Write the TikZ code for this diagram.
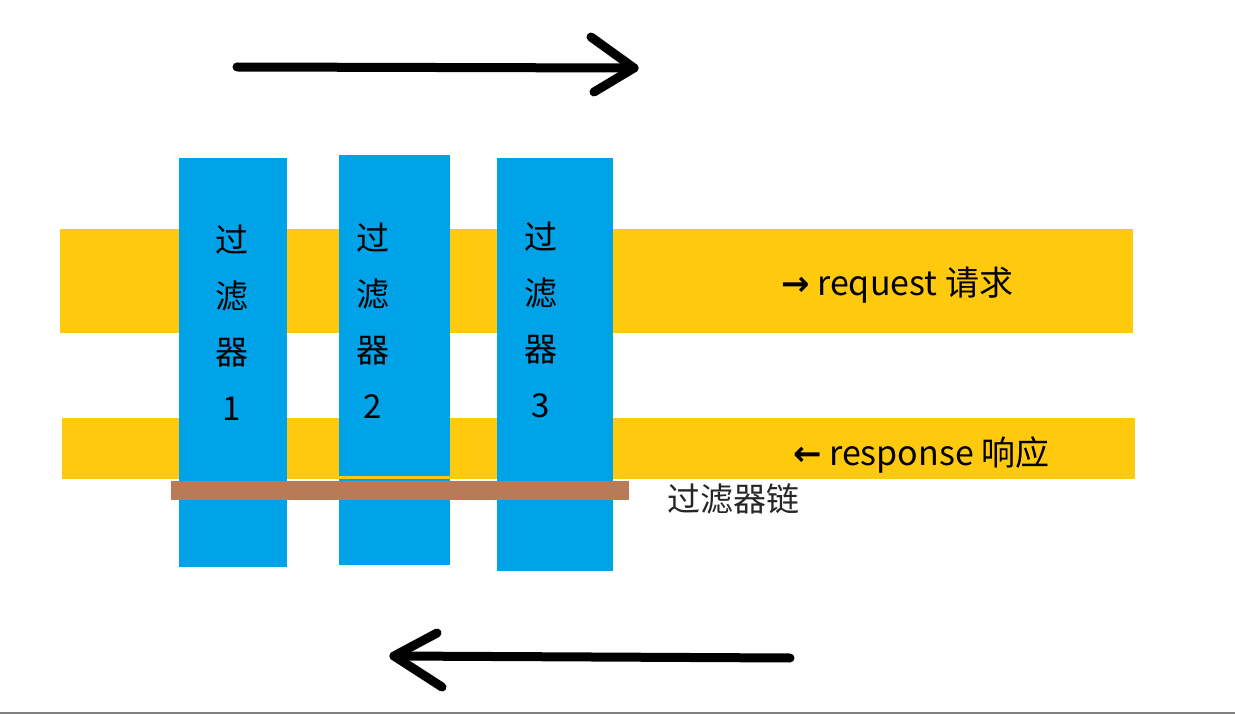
\documentclass[tikz,border=0pt]{standalone}
\usepackage{fontspec}
\setmainfont{Noto Sans CJK SC}
\newfontfamily\symfont{DejaVu Sans}
\definecolor{bandyellow}{RGB}{255,201,14}
\definecolor{filterblue}{RGB}{0,162,232}
\definecolor{chainbrown}{RGB}{185,122,87}
\definecolor{edgegray}{RGB}{128,128,128}
\tikzset{
  band/.style={fill=bandyellow, draw=none},
  filterbox/.style={fill=filterblue, draw=none},
  vtext/.style={align=center, font=\fontsize{33}{56}\selectfont, text=black, inner sep=0pt},
  label/.style={font=\fontsize{34}{38}\selectfont, text=black, inner sep=0pt, anchor=west},
  flow/.style={line width=9pt, line cap=round, line join=round, black}
}
\begin{document}
\begin{tikzpicture}[x=1pt, y=-1pt]
\useasboundingbox (0,0) rectangle (1235,714);
% yellow bands
\fill[band] (60,229) rectangle (1133,333);
\fill[band] (62,418) rectangle (1135,479);
% filter boxes
\fill[filterbox] (179,158) rectangle (287,567);
\fill[filterbox] (339,155) rectangle (450,565);
\fill[bandyellow] (339,476) rectangle (450,478.5);
\fill[filterbox] (497,158) rectangle (613,571);
% chain bar
\fill[chainbrown] (171,481) rectangle (629,500);
% filter texts
\node[vtext] (f1) at (232,323) {过\\滤\\器\\1};
\node[vtext] (f2) at (373,321) {过\\滤\\器\\2};
\node[vtext] (f3) at (541,320) {过\\滤\\器\\3};
% labels
\node[label] (req) at (781,285) {{\symfont\bfseries →} request 请求};
\node[label] (resp) at (793,455) {{\symfont\bfseries ←} response 响应};
\node[label, font=\fontsize{33}{38}\selectfont, text=black!85] (chain) at (667,499) {过滤器链};
% top arrow
\coordinate (ta) at (237,67);
\coordinate (tb) at (634,68);
\coordinate (tu) at (591,37);
\coordinate (td) at (594,92);
\draw[flow] (ta) -- (tb);
\draw[flow] (tu) -- (tb) -- (td);
% bottom arrow
\coordinate (ba) at (790,658);
\coordinate (bb) at (394,656);
\coordinate (bu) at (437,633);
\coordinate (bd) at (442,687);
\draw[flow] (ba) -- (bb);
\draw[flow] (bu) -- (bb) -- (bd);
% bottom edge
\draw[edgegray, line width=1.2pt] (0,713) -- (1235,713);
\end{tikzpicture}
\end{document}
